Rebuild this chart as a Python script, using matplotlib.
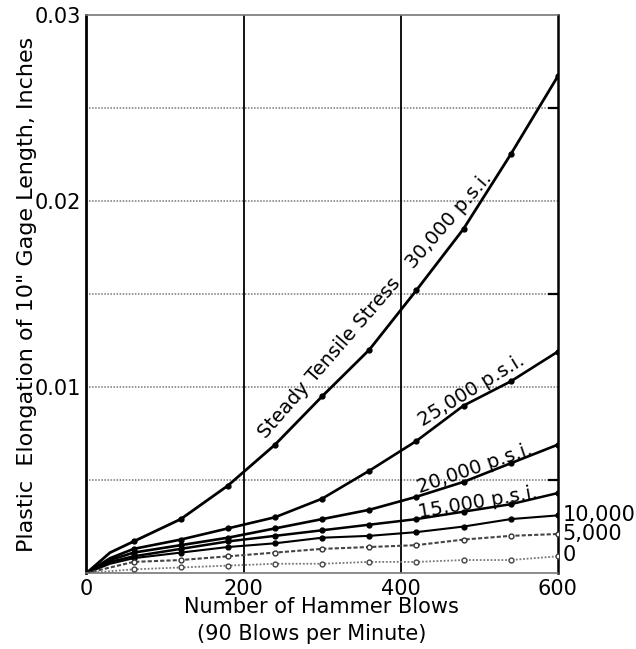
import matplotlib
matplotlib.use("Agg")
import matplotlib.pyplot as plt
from matplotlib.ticker import FixedLocator

# ---- data ----
blows = [0, 30, 60, 120, 180, 240, 300, 360, 420, 480, 540, 600]
s30000 = [0, 0.0011, 0.0017, 0.0029, 0.0047, 0.0069, 0.0095, 0.0120, 0.0152, 0.0185, 0.0225, 0.0267]
s25000 = [0, 0.0008, 0.0013, 0.0018, 0.0024, 0.0030, 0.0040, 0.0055, 0.0071, 0.0090, 0.0103, 0.0119]
s20000 = [0, 0.0007, 0.0011, 0.0015, 0.0019, 0.0024, 0.0029, 0.0034, 0.0041, 0.0049, 0.0059, 0.0069]
s15000 = [0, 0.0006, 0.0009, 0.0013, 0.0017, 0.0020, 0.0023, 0.0026, 0.0029, 0.0033, 0.0037, 0.0043]
s10000 = [0, 0.0005, 0.0008, 0.0011, 0.0014, 0.0016, 0.0019, 0.0020, 0.0022, 0.0025, 0.0029, 0.0031]
s5000 = [0, 0.0003, 0.0006, 0.0007, 0.0009, 0.0011, 0.0013, 0.0014, 0.0015, 0.0018, 0.0020, 0.0021]
s0 = [0, 0.0001, 0.0002, 0.0003, 0.0004, 0.0005, 0.0005, 0.0006, 0.0006, 0.0007, 0.0007, 0.0009]

x_ticks = [0, 200, 400, 600]
y_ticks = [0.01, 0.02, 0.03]
y_tick_labels = ["0.01", "0.02", "0.03"]
grid_levels = [0.005, 0.01, 0.015, 0.02, 0.025]

plt.rcParams['font.family'] = ['DejaVu Sans']

fig = plt.figure(figsize=(6.36, 6.49), dpi=100)
ax = fig.add_axes([0.136, 0.117, 0.741, 0.860])
ax.set_xlim(0, 600)
ax.set_ylim(0, 0.03)

# grid
for g in grid_levels:
    ax.axhline(g, color='#777777', lw=1.1, ls=(0, (1, 1)), zorder=1)
for v in [200, 400]:
    ax.axvline(v, color='black', lw=1.3, zorder=1)

# spines
ax.spines['left'].set_linewidth(2.0)
ax.spines['right'].set_linewidth(1.8)
for s in ['top', 'bottom']:
    ax.spines[s].set_color('#777777')
    ax.spines[s].set_linewidth(1.2)
    ax.spines[s].set_linestyle((0, (1, 1)))

solid = dict(color='black', marker='o', ms=3.5, markevery=list(range(2, 12)), zorder=3)
ax.plot(blows, s30000, lw=2.0, **solid)
ax.plot(blows, s25000, lw=1.9, **solid)
ax.plot(blows, s20000, lw=1.9, **solid)
ax.plot(blows, s15000, lw=1.8, **solid)
ax.plot(blows, s10000, lw=1.5, **solid)
ax.plot(blows, s5000, color='#444444', lw=1.5, ls=(0, (2, 1)), marker='o', ms=3.5,
        mfc='white', mec='#333333', markevery=list(range(2, 12)), zorder=3)
ax.plot(blows, s0, color='#777777', lw=1.3, ls=(0, (1, 1)), marker='o', ms=3.5,
        mfc='white', mec='#444444', markevery=list(range(2, 12)), zorder=3)

fs = 14
txt = dict(fontsize=fs, ha='center', va='center', rotation_mode='anchor', zorder=4)
ax.text(368, 0.0144, "Steady Tensile Stress   30,000 p.s.i.", rotation=49, **txt)
ax.text(490, 0.0098, "25,000 p.s.i.", rotation=31.5, **txt)
ax.text(495, 0.0056, "20,000 p.s.i.", rotation=19, **txt)
ax.text(498, 0.0038, "15,000 p.s.i.", rotation=9.6, **txt)

fr = 15
ax.text(606, 0.00314, "10,000", fontsize=fr, ha='left', va='center', clip_on=False)
ax.text(606, 0.00212, "5,000", fontsize=fr, ha='left', va='center', clip_on=False)
ax.text(606, 0.00097, "0", fontsize=fr, ha='left', va='center', clip_on=False)

ax.set_xticks(x_ticks)
ax.set_xticklabels([str(t) for t in x_ticks], fontsize=15)
ax.set_yticks(y_ticks)
ax.set_yticklabels(y_tick_labels, fontsize=15)
ax.tick_params(which='major', length=0, pad=4)
ax.yaxis.set_minor_locator(FixedLocator(grid_levels))
ax.tick_params(which='minor', axis='y', left=False, right=True, direction='in',
               length=7, width=1.6, color='black')

fig.text(0.505, 1 - 607 / 649, "Number of Hammer Blows", fontsize=15, ha='center', va='center')
fig.text(0.49, 1 - 634 / 649, "(90 Blows per Minute)", fontsize=15, ha='center', va='center')
fig.text(0.042, 0.547, 'Plastic  Elongation of 10" Gage Length, Inches', fontsize=16,
         rotation=90, ha='center', va='center')

fig.savefig("out.png", dpi=100)
